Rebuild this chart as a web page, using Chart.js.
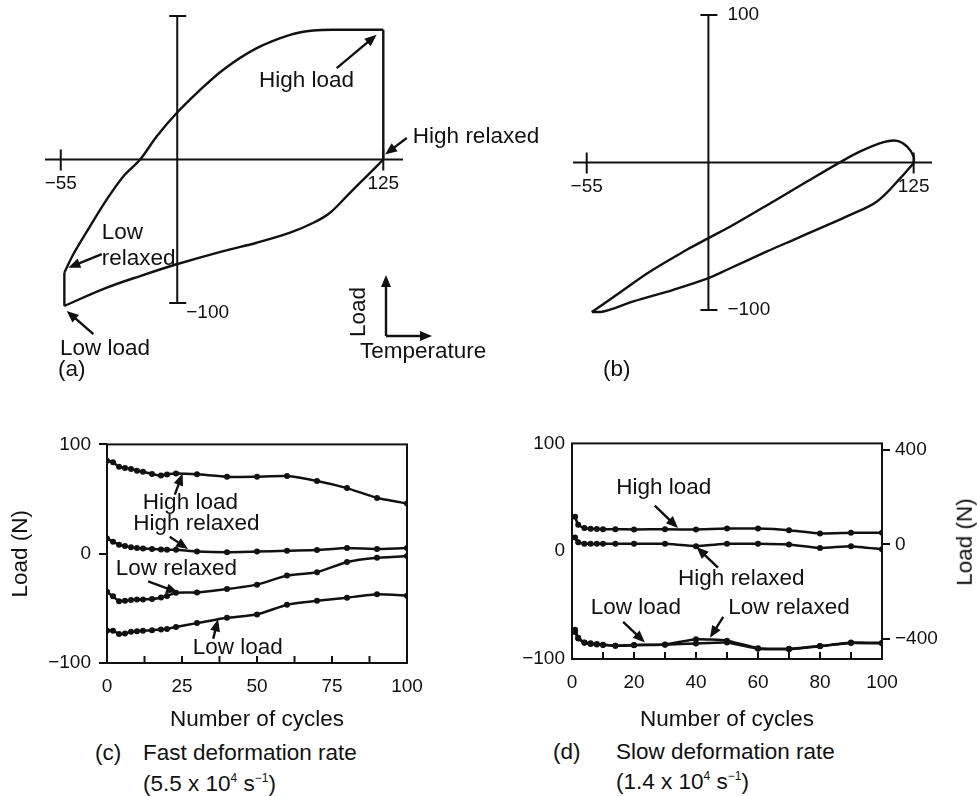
<!DOCTYPE html>
<html lang="en">
<head>
<meta charset="utf-8">
<title>Load during temperature cycling</title>
<script src="https://cdn.jsdelivr.net/npm/chart.js@4.4.1/dist/chart.umd.min.js"></script>
<style>
  html, body { margin: 0; background: #fff; }
  body { position: relative; width: 977px; height: 796px; overflow: hidden; font-family: 'Liberation Sans', Arial, Helvetica, sans-serif; color: #111; }
  canvas { position: absolute; }
  .txt { position: absolute; font-size: 22.5px; line-height: 24px; white-space: nowrap; }
  .rot { transform: rotate(-90deg); transform-origin: center; }
  sup { font-size: 12px; vertical-align: 9px; line-height: 0; }
</style>
</head>
<body>
<canvas id="chartA" width="560" height="400" style="left:0;top:0"></canvas>
<canvas id="chartB" width="487" height="400" style="left:490px;top:0"></canvas>
<canvas id="chartC" width="480" height="310" style="left:0;top:425px"></canvas>
<canvas id="chartD" width="497" height="310" style="left:480px;top:425px"></canvas>

<div class="txt" style="left:58px;top:357px">(a)</div>
<div class="txt" style="left:603px;top:357px">(b)</div>
<div class="txt" style="left:360px;top:339px">Temperature</div>
<div class="txt rot" style="left:333px;top:300px">Load</div>
<div class="txt rot" style="left:921px;top:530px">Load (N)</div>

<div class="txt" style="left:95px;top:741px">(c)</div>
<div class="txt" style="left:143px;top:741px">Fast deformation rate</div>
<div class="txt" style="left:143px;top:772px">(5.5 x 10<sup>4</sup> s<sup>&minus;1</sup>)</div>
<div class="txt" style="left:553px;top:740px">(d)</div>
<div class="txt" style="left:616px;top:740px">Slow deformation rate</div>
<div class="txt" style="left:616px;top:770px">(1.4 x 10<sup>4</sup> s<sup>&minus;1</sup>)</div>

<script>
const INK = '#111'
const FONT = "'Liberation Sans', Arial, Helvetica, sans-serif"
const TICK_FONT = { family: FONT, size: 19 }
const LABEL_FONT = { family: FONT, size: 22.5 }

// (a) fast rate: one thermal cycle, load against temperature
const heatTempA = [-53, -48, -38.6, -29.3, -20, -10.7, -1.4, 9.7, 20.9, 35.7, 54.4, 73, 86, 100.9, 125]
const heatLoadA = [-78.9, -66, -46.4, -27.8, -11.6, 0, 16.2, 32.4, 46.3, 62.6, 77.6, 86.9, 89.9, 90.4, 90.4]
const coolTempA = [125, 115.8, 106.4, 95.3, 86, 73, 54.4, 35.7, 9.7, -10.7, -29.3, -53]
const coolLoadA = [0, -11.6, -23.2, -37.1, -44.1, -51, -58, -63.8, -73, -81.2, -89.3, -102]

// (b) slow rate
const heatTempB = [-52.2, -38.5, -20.1, 0.1, 12, 25.8, 47.8, 66.3, 83.7, 95.6, 108.5, 115.9, 121.4, 125, 125]
const heatLoadB = [-101.4, -89.7, -73.9, -59.2, -51.3, -42.2, -26.4, -12.9, -0.4, 7.5, 13.8, 14.7, 10.8, 4.1, -0.4]
const coolTempB = [125, 117.7, 104.8, 90.1, 73.6, 58.9, 44.2, 22.2, 12, -7.3, -29.3, -45.8, -52.2]
const coolLoadB = [-0.4, -10.6, -26.4, -35.5, -44.5, -52.4, -60.3, -72.7, -78.4, -86.3, -94.2, -101, -101.4]

const tempTicks = [-55, 125]
const capLoads = [100, -100]
const loadLabelsA = [-100]
const loadLabelsB = [100, -100]

// (c) fast rate, loads over the cycles
const cyclesC = [0, 2, 4, 6, 8, 10, 12, 15, 18, 20, 23, 30, 40, 50, 60, 70, 80, 90, 100]
const highLoadC = [85, 83.6, 79.5, 78.5, 77.5, 76, 75, 73, 71.5, 72.5, 73.3, 72.6, 70.3, 70.5, 71, 66.5, 60, 51, 46]
const highRelaxedC = [14, 11, 8.2, 7, 6, 5.2, 4.8, 4.4, 3.8, 3.6, 3.6, 2, 1.3, 1.9, 2.8, 3.4, 5.2, 4.3, 5.2]
const lowRelaxedC = [-34.8, -39, -43.5, -43, -42.3, -42, -41.8, -41.5, -40, -38.7, -35.7, -35.5, -32.4, -28.3, -20, -17, -7.6, -3.7, -2.2]
const lowLoadC = [-70.4, -70.4, -73.5, -73, -71.5, -71, -70.4, -70, -69.3, -68.9, -67, -63.5, -58.6, -55.6, -46.7, -43.1, -40.2, -37.2, -38.4]
const cycleTicksC = [0, 25, 50, 75, 100]
const loadTicksC = [-100, 0, 100]

// (d) slow rate
const cyclesD = [1, 2, 4, 6, 8, 10, 14, 20, 30, 40, 50, 60, 70, 80, 90, 100]
const highLoadD = [31.9, 24.5, 21.5, 20.8, 20.6, 20.4, 20.4, 20.2, 20.4, 20.1, 21, 21, 19.5, 16.5, 17.1, 17.1]
const highRelaxedD = [12.7, 8.2, 7, 6.8, 6.8, 6.8, 6.8, 6.8, 6.8, 4.7, 6.8, 6.8, 6.2, 2.9, 4.7, 1.8]
const lowLoadD = [-72.8, -80.2, -84.7, -85.5, -86.1, -86.8, -87.6, -87, -86.7, -85.6, -84.7, -90.5, -91, -88.2, -85.2, -85.6]
const lowRelaxedD = [-75, -81, -85, -86, -86.5, -87, -87.8, -87.2, -86.5, -81.7, -83, -90, -90.5, -88, -84.7, -85]
const cycleTicksD = [0, 20, 40, 60, 80, 100]
const loadTicksD = [-100, 0, 100]
const loadTicksRightD = [-400, 0, 400]

const fmt = (v) => (v < 0 ? `\u2212${Math.abs(v)}` : `${v}`)
const pts = (xs, ys) => xs.map((x, i) => ({ x, y: ys[i] }))
const setTicks = (values) => (scale) => {
  scale.ticks = values.map((value) => ({ value }))
}
const cssFont = (f) => `${f.size}px ${f.family}`

const drawArrow = (ctx, x1, y1, x2, y2) => {
  const ang = Math.atan2(y2 - y1, x2 - x1)
  const c = Math.cos(ang)
  const s = Math.sin(ang)
  const head = 12
  ctx.lineWidth = 2.4
  ctx.beginPath()
  ctx.moveTo(x1, y1)
  ctx.lineTo(x2 - c * head * 0.8, y2 - s * head * 0.8)
  ctx.stroke()
  ctx.beginPath()
  ctx.moveTo(x2, y2)
  ctx.lineTo(x2 - head * c + 5 * s, y2 - head * s - 5 * c)
  ctx.lineTo(x2 - head * c - 5 * s, y2 - head * s + 5 * c)
  ctx.closePath()
  ctx.fill()
}

// text labels with arrows, anchored in data units
const notes = (items) => ({
  id: 'notes',
  afterDraw(chart) {
    const { ctx, scales } = chart
    ctx.save()
    ctx.font = cssFont(LABEL_FONT)
    ctx.fillStyle = INK
    ctx.strokeStyle = INK
    items.forEach((n) => {
      const px = (v) => scales.x.getPixelForValue(v)
      const py = (v) => scales[n.axis || 'y'].getPixelForValue(v)
      ctx.textAlign = n.align || 'center'
      ctx.textBaseline = 'middle'
      n.text.split('\n').forEach((line, i) => {
        ctx.fillText(line, px(n.at[0]), py(n.at[1]) + i * 26)
      })
      if (n.from) drawArrow(ctx, px(n.from[0]), py(n.from[1]), px(n.to[0]), py(n.to[1]))
    })
    ctx.restore()
  },
})

// cross-shaped axes of panels (a) and (b)
const crossAxes = ({ at, labels, dx, dy }) => ({
  id: 'crossAxes',
  beforeDatasetsDraw(chart) {
    const { ctx, chartArea, scales: { x, y } } = chart
    const y0 = y.getPixelForValue(0)
    const x0 = x.getPixelForValue(at)
    ctx.save()
    ctx.strokeStyle = INK
    ctx.fillStyle = INK
    ctx.lineWidth = 2
    ctx.beginPath()
    ctx.moveTo(chartArea.left, y0)
    ctx.lineTo(chartArea.right, y0)
    ctx.moveTo(x0, y.getPixelForValue(capLoads[0]))
    ctx.lineTo(x0, y.getPixelForValue(capLoads[1]))
    capLoads.forEach((v) => {
      ctx.moveTo(x0 - 8, y.getPixelForValue(v))
      ctx.lineTo(x0 + 9, y.getPixelForValue(v))
    })
    tempTicks.forEach((v) => {
      ctx.moveTo(x.getPixelForValue(v), y0 - 10)
      ctx.lineTo(x.getPixelForValue(v), y0 + 11)
    })
    ctx.stroke()
    ctx.font = cssFont(TICK_FONT)
    ctx.textAlign = 'center'
    ctx.textBaseline = 'top'
    tempTicks.forEach((v) => ctx.fillText(fmt(v), x.getPixelForValue(v), y0 + 15))
    ctx.textAlign = 'left'
    ctx.textBaseline = 'middle'
    labels.forEach((v) => ctx.fillText(fmt(v), x0 + dx, y.getPixelForValue(v) + dy))
    ctx.restore()
  },
})

// small load / temperature key in panel (a)
const axisKey = {
  id: 'axisKey',
  afterDraw(chart) {
    const { ctx } = chart
    ctx.save()
    ctx.strokeStyle = INK
    ctx.fillStyle = INK
    drawArrow(ctx, 386, 336, 386, 275)
    drawArrow(ctx, 386, 336, 432, 336)
    ctx.restore()
  },
}

// box round the plot area plus inward ticks on the cycle axis
const frame = (minorStep) => ({
  id: 'frame',
  afterDraw(chart) {
    const { ctx, chartArea: a, scales: { x } } = chart
    ctx.save()
    ctx.strokeStyle = INK
    ctx.lineWidth = 2
    ctx.strokeRect(a.left, a.top, a.right - a.left, a.bottom - a.top)
    ctx.beginPath()
    for (let v = x.min + minorStep; v < x.max - 0.01; v += minorStep) {
      const p = x.getPixelForValue(v)
      ctx.moveTo(p, a.bottom)
      ctx.lineTo(p, a.bottom - 7)
    }
    ctx.stroke()
    ctx.restore()
  },
})

const loopLine = (data, tension) => ({
  data,
  showLine: true,
  tension,
  borderColor: INK,
  borderWidth: 2.4,
  pointRadius: 0,
  clip: false,
})

const loopOptions = (padding, xMin, xMax) => ({
  responsive: false,
  animation: false,
  layout: { padding },
  plugins: { legend: { display: false }, tooltip: { enabled: false } },
  scales: {
    x: { type: 'linear', display: false, min: xMin, max: xMax },
    y: { display: false, min: -100, max: 100 },
  },
})

const heatA = pts(heatTempA, heatLoadA)
const coolA = pts(coolTempA, coolLoadA)
new Chart(document.getElementById('chartA'), {
  type: 'scatter',
  data: {
    datasets: [
      loopLine(heatA, 0.35),
      loopLine([heatA[heatA.length - 1], coolA[0]], 0),
      loopLine(coolA, 0.35),
      loopLine([coolA[coolA.length - 1], heatA[0]], 0),
    ],
  },
  options: loopOptions({ left: 45, top: 16, right: 157, bottom: 97 }, -63.8, 136),
  plugins: [
    crossAxes({ at: 10, labels: loadLabelsA, dx: 9, dy: 10 }),
    axisKey,
    notes([
      { text: 'High load', at: [82.2, 54.5], from: [99, 63.7], to: [121.3, 86.9] },
      { text: 'High relaxed', at: [141.5, 15.5], align: 'left', from: [138.1, 15], to: [126, 3.5] },
      { text: 'Low\nrelaxed', at: [-32.1, -51], align: 'left', from: [-32.1, -66], to: [-50.8, -75.4] },
      { text: 'Low load', at: [-55.4, -132], align: 'left', from: [-36.8, -121.7], to: [-51.7, -105.5] },
    ]),
  ],
})

new Chart(document.getElementById('chartB'), {
  type: 'scatter',
  data: {
    datasets: [
      loopLine(pts(heatTempB, heatLoadB), 0.35),
      loopLine(pts(coolTempB, coolLoadB), 0.35),
    ],
  },
  options: loopOptions({ left: 83, top: 15, right: 45, bottom: 90 }, -62.55, 135.1),
  plugins: [crossAxes({ at: 12, labels: loadLabelsB, dx: 19, dy: 0 })],
})

const seriesLine = (label, data, yAxisID = 'y') => ({
  label,
  data,
  yAxisID,
  borderColor: INK,
  backgroundColor: INK,
  borderWidth: 2.5,
  pointRadius: 3,
  pointBorderWidth: 0,
  tension: 0.15,
})

const cycleAxis = (ticks) => ({
  type: 'linear',
  min: 0,
  max: 100,
  afterBuildTicks: setTicks(ticks),
  grid: { display: false, drawTicks: false },
  border: { display: false },
  ticks: { color: INK, font: TICK_FONT, padding: 12, maxRotation: 0 },
  title: { display: true, text: 'Number of cycles', color: INK, font: LABEL_FONT, padding: { top: 0, bottom: 2 } },
})

const baseOptions = {
  responsive: false,
  animation: false,
  plugins: { legend: { display: false }, tooltip: { enabled: false } },
}

new Chart(document.getElementById('chartC'), {
  type: 'line',
  data: {
    datasets: [
      seriesLine('High load', pts(cyclesC, highLoadC)),
      seriesLine('High relaxed', pts(cyclesC, highRelaxedC)),
      seriesLine('Low relaxed', pts(cyclesC, lowRelaxedC)),
      seriesLine('Low load', pts(cyclesC, lowLoadC)),
    ],
  },
  options: {
    ...baseOptions,
    layout: { padding: { left: 0, top: 13, right: 73, bottom: 0 } },
    scales: {
      x: { ...cycleAxis(cycleTicksC), afterFit: (s) => { s.height = 72 } },
      y: {
        min: -100,
        max: 100,
        afterBuildTicks: setTicks(loadTicksC),
        grid: { drawOnChartArea: false, tickLength: 8, color: INK, lineWidth: 2 },
        border: { display: false },
        ticks: { color: INK, font: TICK_FONT, padding: 8, callback: fmt },
        title: { display: true, text: 'Load (N)', color: INK, font: LABEL_FONT, padding: { top: 7, bottom: 0 } },
        afterFit: (s) => { s.width = 107 },
      },
    },
  },
  plugins: [
    frame(12.5),
    notes([
      { text: 'High load', at: [27.8, 46.9], from: [22.6, 54], to: [25.2, 73.3] },
      { text: 'High relaxed', at: [29.8, 27.4], from: [20.9, 15.6], to: [27, 4.3] },
      { text: 'Low relaxed', at: [23.1, -14.1], from: [13.7, -25.3], to: [23.7, -35.5] },
      { text: 'Low load', at: [43.6, -86.1], from: [35.4, -77.8], to: [37, -60] },
    ]),
  ],
})

new Chart(document.getElementById('chartD'), {
  type: 'line',
  data: {
    datasets: [
      seriesLine('High load', pts(cyclesD, highLoadD)),
      seriesLine('High relaxed', pts(cyclesD, highRelaxedD)),
      seriesLine('Low load', pts(cyclesD, lowLoadD)),
      seriesLine('Low relaxed', pts(cyclesD, lowRelaxedD)),
    ],
  },
  options: {
    ...baseOptions,
    layout: { padding: { left: 0, top: 8, right: 0, bottom: 0 } },
    scales: {
      x: { ...cycleAxis(cycleTicksD), afterFit: (s) => { s.height = 76 } },
      y: {
        min: -100,
        max: 100,
        afterBuildTicks: setTicks(loadTicksD),
        grid: { display: false, drawTicks: false },
        border: { display: false },
        ticks: { color: INK, font: TICK_FONT, padding: 7, callback: fmt },
        afterFit: (s) => { s.width = 92 },
      },
      y2: {
        position: 'right',
        min: -485,
        max: 428,
        afterBuildTicks: setTicks(loadTicksRightD),
        grid: { drawOnChartArea: false, tickLength: 8, color: INK, lineWidth: 2 },
        border: { display: false },
        ticks: { color: INK, font: TICK_FONT, padding: 5, callback: fmt },
        afterFit: (s) => { s.width = 95 },
      },
    },
  },
  plugins: [
    frame(10),
    notes([
      { text: 'High load', at: [29.6, 58.4], from: [26.7, 42.2], to: [34.2, 21.5] },
      { text: 'High relaxed', at: [54.6, -25.7], from: [47.1, -15.3], to: [40.2, 3.8] },
      { text: 'Low load', at: [20.6, -52.2], from: [16.5, -65.5], to: [23.5, -84.7] },
      { text: 'Low relaxed', at: [70, -52.2], from: [48.8, -61], to: [44.5, -80.3] },
    ]),
  ],
})
</script>
</body>
</html>
